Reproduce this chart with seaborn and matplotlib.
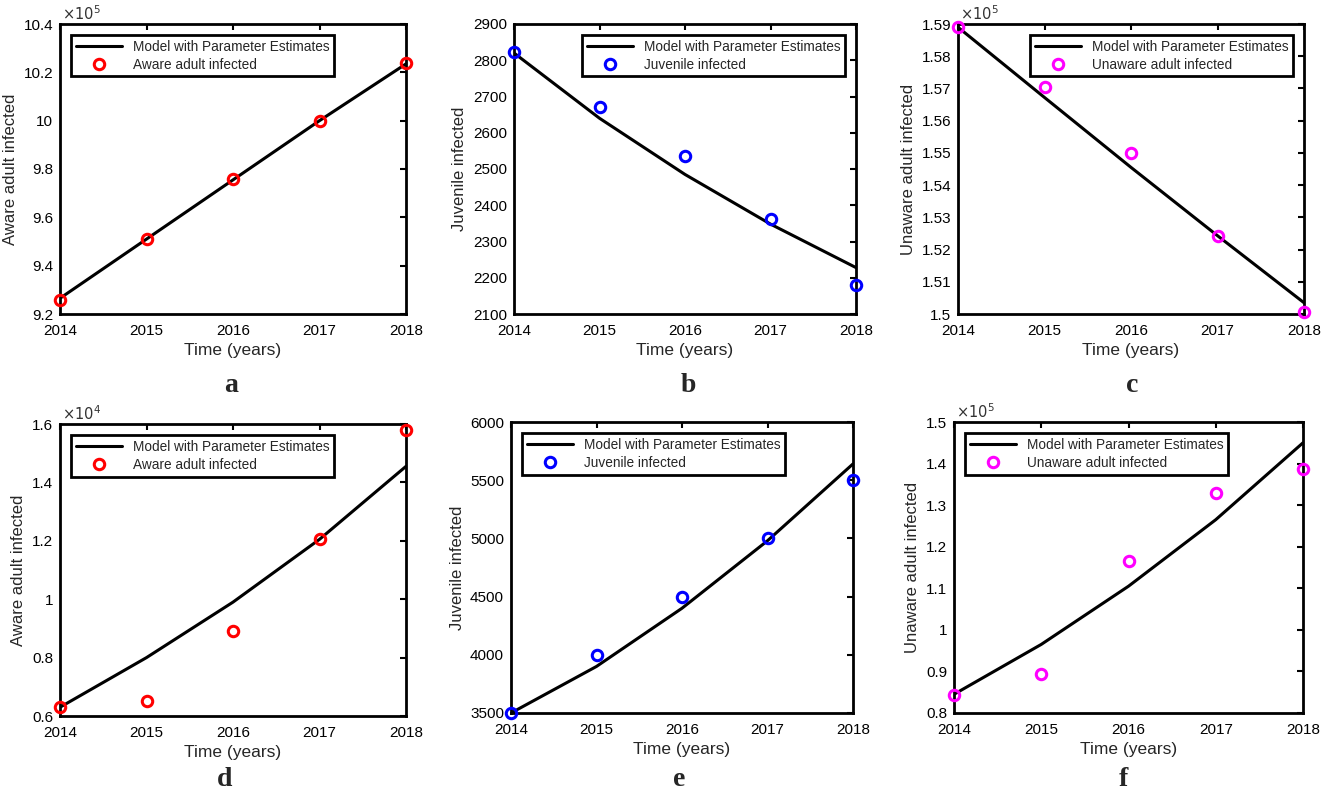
import matplotlib
matplotlib.use("Agg")
import matplotlib.pyplot as plt
import matplotlib.ticker as mticker
import numpy as np
import seaborn as sns

# data
years = [2014, 2015, 2016, 2017, 2018]

aware1_data = [9.26e5, 9.512e5, 9.76e5, 10.0e5, 10.24e5]
aware1_model = [9.265e5, 9.51e5, 9.755e5, 10.0e5, 10.235e5]
juv1_data = [2824, 2672, 2537, 2362, 2180]
juv1_model = [2820, 2640, 2485, 2348, 2228]
unaware1_data = [1.589e5, 1.5705e5, 1.550e5, 1.5243e5, 1.5007e5]
unaware1_model = [1.589e5, 1.5672e5, 1.5455e5, 1.5243e5, 1.5035e5]

aware2_data = [0.63e4, 0.65e4, 0.89e4, 1.205e4, 1.58e4]
aware2_model = [0.63e4, 0.80e4, 0.99e4, 1.205e4, 1.455e4]
juv2_data = [3500, 4000, 4500, 5000, 5500]
juv2_model = [3500, 3900, 4400, 4980, 5640]
unaware2_data = [0.843e5, 0.895e5, 1.165e5, 1.33e5, 1.387e5]
unaware2_model = [0.845e5, 0.965e5, 1.105e5, 1.265e5, 1.45e5]

sns.set_style("white")
plt.rcParams["font.family"] = ["Liberation Sans", "DejaVu Sans"]
plt.rcParams["axes.linewidth"] = 2.0
plt.rcParams["axes.edgecolor"] = "black"

fig = plt.figure(figsize=(13.25, 7.96), dpi=100)
W, H = 1325, 796


def add_axes(l, r, t, b):
    return fig.add_axes([l / W, 1 - b / H, (r - l) / W, (b - t) / H])


panels = [
    # (axes box px, data, model, color, label, ylabel, ylim, step, exponent, legend loc, letter, letter x, letter y)
    ((60, 406, 24, 314), aware1_data, aware1_model, "red", "Aware adult infected",
     "Aware adult infected", (9.2e5, 10.4e5), 0.2e5, 5, "upper left", "a", 231, 385),
    ((514, 856, 24, 314), juv1_data, juv1_model, "blue", "Juvenile infected",
     "Juvenile infected", (2100, 2900), 100, None, "upper right", "b", 688, 385),
    ((958, 1304, 24, 314), unaware1_data, unaware1_model, "magenta", "Unaware adult infected",
     "Unaware adult infected", (1.50e5, 1.59e5), 0.01e5, 5, "upper right", "c", 1132, 385),
    ((60, 406, 424, 716), aware2_data, aware2_model, "red", "Aware adult infected",
     "Aware adult infected", (0.6e4, 1.6e4), 0.2e4, 4, "upper left", "d", 225, 780),
    ((511, 853, 422, 713), juv2_data, juv2_model, "blue", "Juvenile infected",
     "Juvenile infected", (3500, 6000), 500, None, "upper left", "e", 679, 780),
    ((954, 1303, 422, 713), unaware2_data, unaware2_model, "magenta", "Unaware adult infected",
     "Unaware adult infected", (0.8e5, 1.5e5), 0.1e5, 5, "upper left", "f", 1123, 780),
]

for box, dat, mod, col, lab, ylab, ylim, step, expo, loc, letter, lx, ly in panels:
    ax = add_axes(*box)
    sns.lineplot(x=years, y=mod, ax=ax, color="black", linewidth=2.2,
                 label="Model with Parameter Estimates")
    sns.lineplot(x=years, y=dat, ax=ax, color=col, linestyle="none", marker="o",
                 markersize=7.5, markerfacecolor="none", markeredgecolor=col,
                 markeredgewidth=2.2, label=lab, clip_on=False, zorder=5)
    ax.set_xlim(2014, 2018)
    ax.set_ylim(*ylim)
    ax.set_xticks(years)
    ax.set_yticks(np.arange(ylim[0], ylim[1] + step / 2, step))
    if expo is not None:
        ax.yaxis.set_major_formatter(
            mticker.FuncFormatter(lambda v, p, e=expo: f"{round(v / 10 ** e, 4):g}"))
        ax.text(0.005, 1.005, r"$\times10^{%d}$" % expo, transform=ax.transAxes,
                fontsize=10.5, ha="left", va="bottom", color="#333333")
    ax.tick_params(direction="in", length=4, width=1.5, top=True, right=True,
                   labelsize=11, colors="black")
    ax.tick_params(axis="x", pad=7)
    ax.tick_params(axis="y", pad=5)
    ax.set_xlabel("Time (years)", fontsize=12.5, labelpad=4)
    ax.set_ylabel(ylab, fontsize=12)
    leg = ax.legend(loc=loc, fontsize=9.8, frameon=True, fancybox=False,
                    framealpha=1, edgecolor="black", handlelength=3.4,
                    borderaxespad=0.8, borderpad=0.35, labelspacing=0.3)
    leg.get_frame().set_linewidth(2.0)
    fig.text(lx / W, 1 - ly / H, letter, ha="center", va="center",
             fontsize=20, fontweight="bold", family=["Liberation Serif", "DejaVu Serif"])

fig.savefig("out.png", dpi=100, facecolor="white")
